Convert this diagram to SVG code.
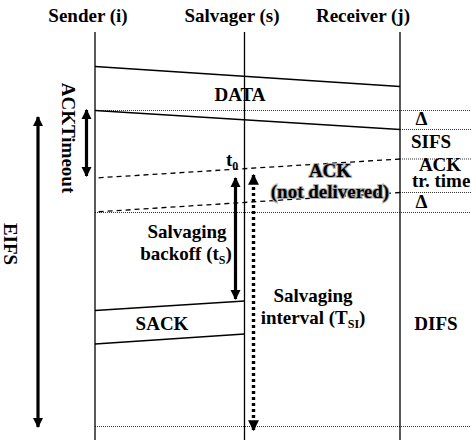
<svg xmlns="http://www.w3.org/2000/svg" width="471" height="440" viewBox="0 0 471 440">
  <style>
    text { font-family: "Liberation Serif", "Times New Roman", serif; font-weight: bold; font-size: 19px; fill: #000; }
    .mid { text-anchor: middle; }
    .life { stroke: #000; stroke-width: 1.3; fill: none; }
    .msg { stroke: #000; stroke-width: 1.3; fill: none; }
    .lost { stroke: #000; stroke-width: 1.3; fill: none; stroke-dasharray: 5 4; }
    .grid { stroke: #000; stroke-width: 0.8; fill: none; stroke-dasharray: 1 1; }
    .span { stroke: #000; stroke-width: 3.2; fill: none; }
    .span-dot { stroke: #000; stroke-width: 3.4; fill: none; stroke-dasharray: 3 3; }
    .halo { stroke: #b0b0b0; stroke-width: 2.2; paint-order: stroke; }
  </style>
  <defs>
    <marker id="head" viewBox="0 0 10 10" refX="9" refY="5" markerWidth="3.2" markerHeight="3.2" orient="auto-start-reverse" markerUnits="strokeWidth">
      <path d="M0,0 L10,5 L0,10 z" fill="#000"/>
    </marker>
  </defs>

  <!-- lifelines -->
  <g id="sender">
    <text class="mid" x="88" y="22">Sender (i)</text>
    <line class="life" x1="95" y1="32" x2="95" y2="440"/>
  </g>
  <g id="salvager">
    <text class="mid" x="232" y="22">Salvager (s)</text>
    <line class="life" x1="244.5" y1="32" x2="244.5" y2="440"/>
  </g>
  <g id="receiver">
    <text class="mid" x="363" y="22">Receiver (j)</text>
    <line class="life" x1="400" y1="32" x2="400" y2="440"/>
  </g>

  <!-- timing reference lines -->
  <g id="grid">
    <line class="grid" x1="95" y1="110.5" x2="471" y2="110.5"/>
    <line class="grid" x1="400" y1="129.5" x2="471" y2="129.5"/>
    <line class="grid" x1="400" y1="159" x2="471" y2="159"/>
    <line class="grid" x1="400" y1="192.5" x2="471" y2="192.5"/>
    <line class="grid" x1="95" y1="212.5" x2="471" y2="212.5"/>
    <line class="grid" x1="95" y1="426.5" x2="471" y2="426.5"/>
  </g>

  <g id="connectors">
    <!-- DATA frame -->
    <line class="msg" x1="95" y1="66.5" x2="400" y2="86.5"/>
    <line class="msg" x1="95" y1="110.5" x2="400" y2="129.5"/>
    <!-- ACK frame, not delivered -->
    <line class="lost" x1="400" y1="159" x2="95" y2="178"/>
    <line class="lost" x1="400" y1="192.5" x2="95" y2="212"/>
    <!-- SACK frame -->
    <line class="msg" x1="244.5" y1="301" x2="95" y2="310.5"/>
    <line class="msg" x1="244.5" y1="334" x2="95" y2="344"/>
    <!-- interval spans -->
    <line class="span" x1="38" y1="117" x2="38" y2="427" marker-start="url(#head)" marker-end="url(#head)"/>
    <line class="span" x1="86.5" y1="110" x2="86.5" y2="176" marker-start="url(#head)" marker-end="url(#head)"/>
    <line class="span" x1="235.5" y1="178" x2="235.5" y2="299" marker-start="url(#head)" marker-end="url(#head)"/>
    <line class="span-dot" x1="253.5" y1="175" x2="253.5" y2="430" marker-start="url(#head)" marker-end="url(#head)"/>
  </g>

  <!-- labels -->
  <g id="labels">
    <text class="mid" x="240" y="101">DATA</text>
    <text class="mid" x="421.5" y="125">Δ</text>
    <text class="mid" x="431" y="148">SIFS</text>
    <text class="mid" x="440" y="171">ACK</text>
    <text x="412" y="187">tr. time</text>
    <text class="mid" x="421.5" y="208">Δ</text>
    <text class="mid" x="436" y="330">DIFS</text>
    <text class="mid halo" x="330" y="177">ACK</text>
    <text class="mid halo" x="330" y="198">(not delivered)</text>
    <text x="226" y="166">t<tspan font-size="12" dy="4">0</tspan></text>
    <text class="mid" x="187" y="238">Salvaging</text>
    <text class="mid" x="186" y="260">backoff (t<tspan font-size="12" dy="4">S</tspan><tspan dy="-4">)</tspan></text>
    <text class="mid" x="162" y="330">SACK</text>
    <text class="mid" x="313" y="302">Salvaging</text>
    <text class="mid" x="313" y="324">interval (T<tspan font-size="12" dy="4">SI</tspan><tspan dy="-4">)</tspan></text>
    <text class="mid" transform="translate(62,138) rotate(90)">ACKTimeout</text>
    <text class="mid" transform="translate(4,244) rotate(90)">EIFS</text>
  </g>
</svg>
